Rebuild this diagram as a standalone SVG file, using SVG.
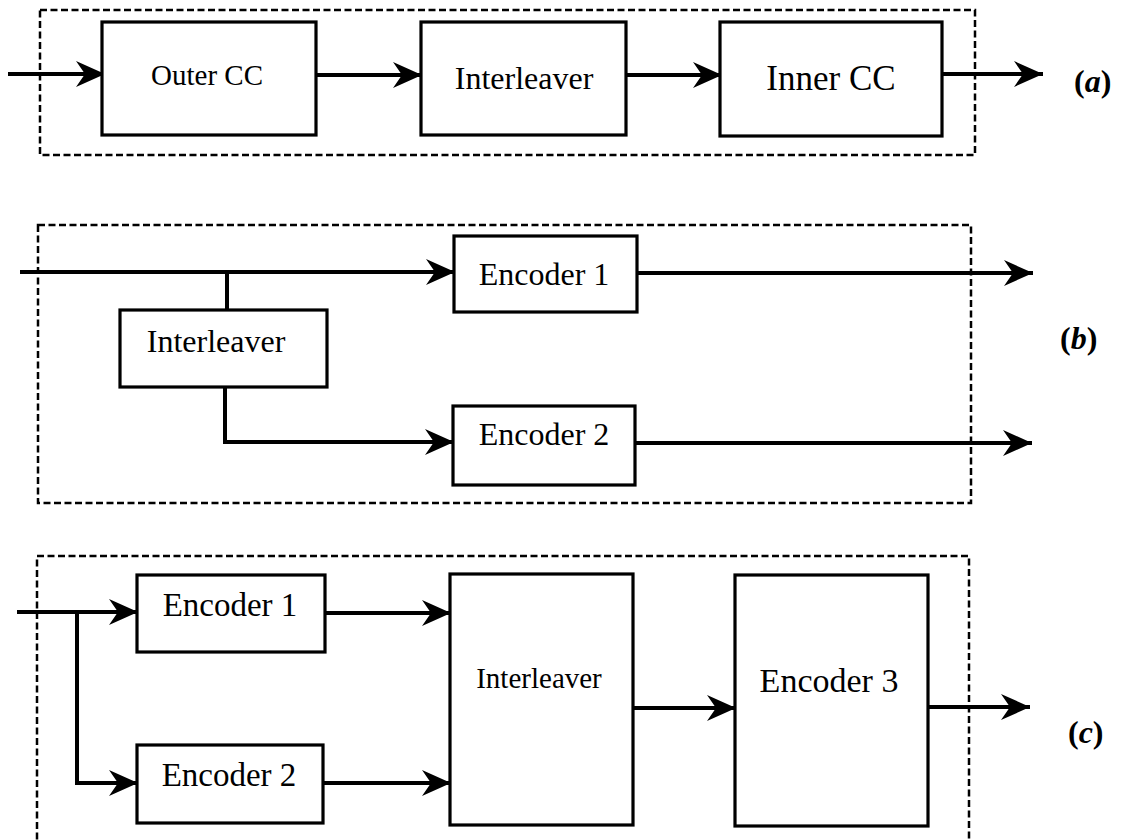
<svg xmlns="http://www.w3.org/2000/svg" width="1121" height="840" viewBox="0 0 1121 840">
<defs>
<marker id="ah" markerUnits="userSpaceOnUse" markerWidth="32" markerHeight="30" refX="30" refY="14" orient="auto">
<path d="M30,14 L1,1 L10,14 L1,27 Z" fill="#000"/>
</marker>
<style>
.frame{fill:none;stroke:#000;stroke-width:2.5;stroke-dasharray:7 3.5}
.box{fill:#fff;stroke:#000;stroke-width:3.2}
.wire{fill:none;stroke:#000;stroke-width:4}
.arr{fill:none;stroke:#000;stroke-width:4;marker-end:url(#ah)}
.t{font-family:"Liberation Serif","Times New Roman",serif;fill:#000;text-anchor:middle}
.lab{font-family:"Liberation Serif","Times New Roman",serif;font-size:32px;font-weight:bold;fill:#000}
</style>
</defs>
<rect width="1121" height="840" fill="#fff"/>

<g id="frames">
<rect class="frame" x="40" y="10" width="935" height="145"/>
<rect class="frame" x="38" y="225" width="933" height="278"/>
<path class="frame" d="M37,850 L37,556 L969,556 L969,850"/>
</g>

<g id="connectors">
<line class="arr" x1="8" y1="74" x2="105" y2="74"/>
<line class="arr" x1="316" y1="75" x2="422" y2="75"/>
<line class="arr" x1="626" y1="75" x2="722" y2="75"/>
<line class="arr" x1="942" y1="74" x2="1043" y2="74"/>
<line class="arr" x1="20" y1="272" x2="455" y2="272"/>
<line class="wire" x1="227" y1="272" x2="227" y2="310"/>
<polyline class="arr" points="225,387 225,442 454,442"/>
<line class="arr" x1="637" y1="273" x2="1033" y2="273"/>
<line class="arr" x1="635" y1="443" x2="1032" y2="443"/>
<line class="arr" x1="17" y1="612" x2="138" y2="612"/>
<polyline class="arr" points="77,612 77,783 138,783"/>
<line class="arr" x1="325" y1="613" x2="451" y2="613"/>
<line class="arr" x1="323" y1="783" x2="451" y2="783"/>
<line class="arr" x1="633" y1="708" x2="736" y2="708"/>
<line class="arr" x1="928" y1="707" x2="1030" y2="707"/>
</g>

<g id="outer-cc"><rect class="box" x="102" y="22" width="214" height="113"/><text class="t" x="207" y="85" font-size="29">Outer CC</text></g>
<g id="interleaver-a"><rect class="box" x="421" y="22" width="205" height="113"/><text class="t" x="524" y="89" font-size="32">Interleaver</text></g>
<g id="inner-cc"><rect class="box" x="720" y="22" width="222" height="114"/><text class="t" x="831" y="90" font-size="35">Inner CC</text></g>
<g id="label-a"><text class="lab" x="1074" y="92">(<tspan font-style="italic">a</tspan>)</text></g>

<g id="encoder1-b"><rect class="box" x="454" y="236" width="183" height="76"/><text class="t" x="544" y="285" font-size="32">Encoder 1</text></g>
<g id="interleaver-b"><rect class="box" x="120" y="310" width="207" height="77"/><text class="t" x="216" y="352" font-size="32">Interleaver</text></g>
<g id="encoder2-b"><rect class="box" x="453" y="406" width="182" height="79"/><text class="t" x="544" y="445" font-size="32">Encoder 2</text></g>
<g id="label-b"><text class="lab" x="1060" y="349">(<tspan font-style="italic">b</tspan>)</text></g>

<g id="encoder1-c"><rect class="box" x="137" y="575" width="188" height="77"/><text class="t" x="230" y="616" font-size="33">Encoder 1</text></g>
<g id="encoder2-c"><rect class="box" x="137" y="745" width="186" height="78"/><text class="t" x="229" y="786" font-size="33">Encoder 2</text></g>
<g id="interleaver-c"><rect class="box" x="450" y="574" width="183" height="251"/><text class="t" x="539" y="688" font-size="29">Interleaver</text></g>
<g id="encoder3-c"><rect class="box" x="735" y="575" width="193" height="251"/><text class="t" x="829" y="692" font-size="34">Encoder 3</text></g>
<g id="label-c"><text class="lab" x="1068" y="743">(<tspan font-style="italic">c</tspan>)</text></g>
</svg>
